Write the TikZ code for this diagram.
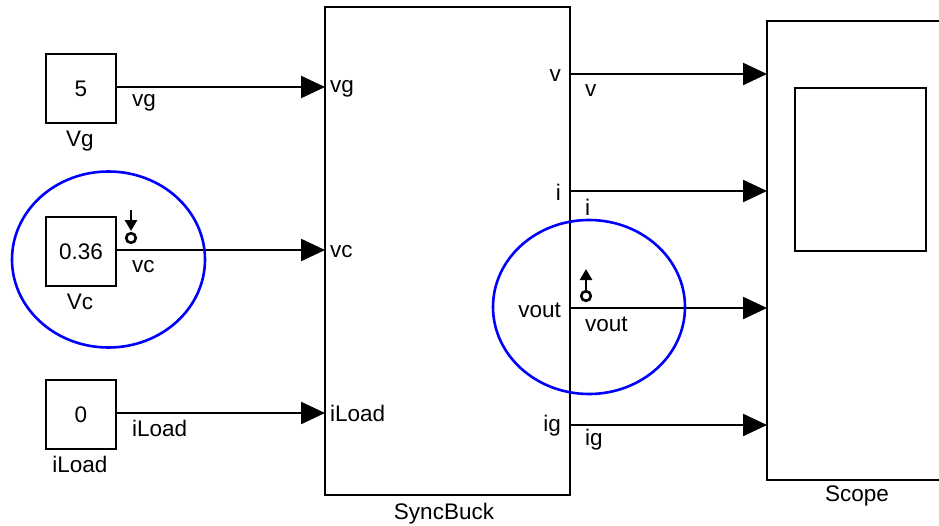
\documentclass[tikz,border=0pt]{standalone}
\usepackage{fontspec}
\setmainfont{Liberation Sans}
\usetikzlibrary{arrows.meta}
\begin{document}
\begin{tikzpicture}[x=1pt,y=-1pt,
  blk/.style={draw,line width=2.4pt,inner sep=0pt},
  wire/.style={line width=2.4pt,-{Triangle[length=24pt,width=22pt]}},
  lbl/.style={font=\fontsize{22.5}{22.5}\selectfont,inner sep=0pt},
  hl/.style={draw=blue,line width=2.6pt},
  tp/.style={line width=2.6pt}]
\useasboundingbox (0,0) rectangle (939,525);
% source blocks
\node[blk,minimum width=70pt,minimum height=69pt] (vg) at (81,88.5) {};
\node[lbl] at (vg.center) {5};
\node[lbl,anchor=north] (vgn) at (80,131) {Vg};
\node[blk,minimum width=70pt,minimum height=69pt] (vc) at (81,251.5) {};
\node[lbl] at (vc.center) {0.36};
\node[lbl,anchor=north] (vcn) at (80,294) {Vc};
\node[blk,minimum width=70pt,minimum height=69pt] (il) at (81,414.5) {};
\node[lbl] at (il.center) {0};
\node[lbl,anchor=north] (iln) at (80,456) {iLoad};
% SyncBuck
\node[blk,minimum width=245pt,minimum height=488pt] (sb) at (447.5,251) {};
\node[lbl,anchor=north] (sbn) at (444,503) {SyncBuck};
\coordinate (pvg) at (325,87);
\coordinate (pvc) at (325,250);
\coordinate (pil) at (325,413);
\node[lbl,anchor=west] at (330,89) {vg};
\node[lbl,anchor=west] at (330,252) {vc};
\node[lbl,anchor=west] at (330,413) {iLoad};
\coordinate (ov) at (570,74);
\coordinate (oi) at (570,191);
\coordinate (ovo) at (570,308);
\coordinate (oig) at (570,425);
\node[lbl,anchor=east] at (561,76) {v};
\node[lbl,anchor=east] at (561,192) {i};
\node[lbl,anchor=east] at (561,310) {vout};
\node[lbl,anchor=east] at (561,426) {ig};
% Scope
\draw[line width=2.4pt] (945,21) -- (767,21) -- (767,480) -- (945,480);
\node[blk,minimum width=131pt,minimum height=163pt] (scr) at (860.5,169.5) {};
\node[lbl,anchor=north] (scn) at (857,486) {Scope};
\coordinate (s1) at (767,74);
\coordinate (s2) at (767,191);
\coordinate (s3) at (767,308);
\coordinate (s4) at (767,425);
% wires
\draw[wire] (vg.east |- pvg) -- (pvg);
\draw[wire] (vc.east |- pvc) -- (pvc);
\draw[wire] (il.east |- pil) -- (pil);
\draw[wire] (ov) -- (s1);
\draw[wire] (oi) -- (s2);
\draw[wire] (ovo) -- (s3);
\draw[wire] (oig) -- (s4);
% signal labels
\node[lbl,anchor=west] at (132,103) {vg};
\node[lbl,anchor=west] at (132,267) {vc};
\node[lbl,anchor=west] at (132,428) {iLoad};
\node[lbl,anchor=west] at (585,91) {v};
\node[lbl,anchor=west] at (585,207) {i};
\node[lbl,anchor=west] at (585,324) {vout};
\node[lbl,anchor=west] at (585,440) {ig};
% test points
\draw[tp] (131,238) circle (4.8pt);
\draw[tp,-{Triangle[length=11pt,width=12pt]}] (131,210) -- (131,231);
\draw[tp] (586,296) circle (4.8pt);
\draw[tp,-{Triangle[length=11pt,width=12pt]}] (586,290) -- (586,269);
% highlight ellipses
\draw[hl] (108.5,259.5) ellipse (96.5pt and 88pt);
\draw[hl] (589,307) ellipse (96pt and 87pt);
\end{tikzpicture}
\end{document}
